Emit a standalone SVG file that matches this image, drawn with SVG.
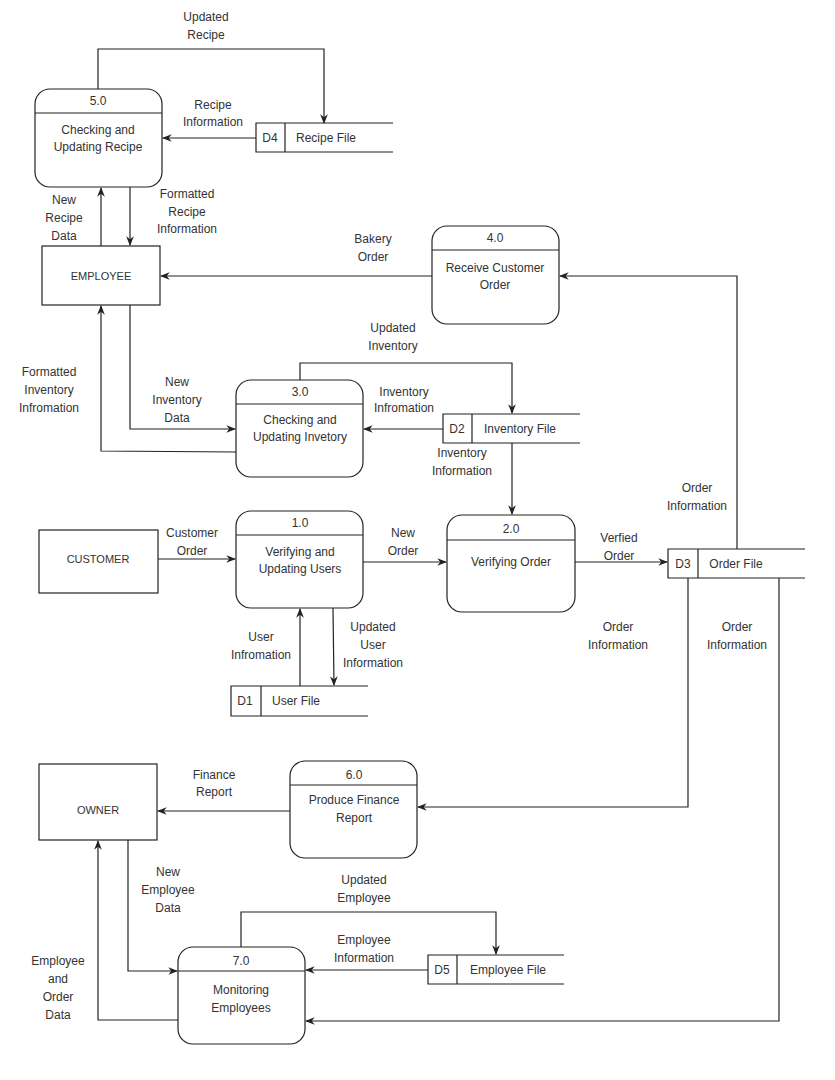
<svg xmlns="http://www.w3.org/2000/svg" width="835" height="1080" viewBox="0 0 835 1080">
<style>
text{font-family:"Liberation Sans",Arial,sans-serif;font-size:12px;fill:#333;text-anchor:middle}
.e{font-size:11px}
.b{fill:#fff;stroke:#222;stroke-width:1.2}
.l{fill:none;stroke:#222;stroke-width:1.2}
.c path{fill:none;stroke:#222;stroke-width:1.2;marker-end:url(#a)}
</style>
<defs><marker id="a" viewBox="0 0 10 10" refX="9" refY="5" markerWidth="8" markerHeight="8" orient="auto"><path d="M0,1 L10,5 L0,9 L3,5 Z" fill="#222"/></marker></defs>
<rect width="835" height="1080" fill="#fff"/>
<g id="p5"><rect class="b" x="35" y="89" width="127" height="98" rx="15"/><path class="l" d="M35,113H162"/><text x="98" y="105">5.0</text><text x="98" y="134">Checking and</text><text x="98" y="151">Updating Recipe</text></g>
<g id="d4"><path class="l" d="M393,123H256V152H393M285,123V152"/><text x="270" y="142">D4</text><text x="326" y="142">Recipe File</text></g>
<g id="employee"><rect class="b" x="42" y="246" width="118" height="59"/><text class="e" x="101" y="280">EMPLOYEE</text></g>
<g id="p4"><rect class="b" x="432" y="226" width="127" height="98" rx="15"/><path class="l" d="M432,250H559"/><text x="495" y="242">4.0</text><text x="495" y="272">Receive Customer</text><text x="495" y="289">Order</text></g>
<g id="p3"><rect class="b" x="236" y="380" width="127" height="97" rx="15"/><path class="l" d="M236,404H363"/><text x="300" y="396">3.0</text><text x="300" y="424">Checking and</text><text x="300" y="441">Updating Invetory</text></g>
<g id="d2"><path class="l" d="M580,414H443V443H580M472,414V443"/><text x="457" y="433">D2</text><text x="520" y="433">Inventory File</text></g>
<g id="customer"><rect class="b" x="39" y="530" width="119" height="63"/><text class="e" x="98" y="563">CUSTOMER</text></g>
<g id="p1"><rect class="b" x="236" y="511" width="127" height="97" rx="15"/><path class="l" d="M236,535H363"/><text x="300" y="527">1.0</text><text x="300" y="556">Verifying and</text><text x="300" y="573">Updating Users</text></g>
<g id="p2"><rect class="b" x="447" y="515" width="128" height="97" rx="15"/><path class="l" d="M447,540H575"/><text x="511" y="533">2.0</text><text x="511" y="566">Verifying Order</text></g>
<g id="d3"><path class="l" d="M805,549H668V578H805M698,549V578"/><text x="683" y="568">D3</text><text x="736" y="568">Order File</text></g>
<g id="d1"><path class="l" d="M368,686H231V716H368M261,686V716"/><text x="245" y="705">D1</text><text x="296" y="705">User File</text></g>
<g id="p6"><rect class="b" x="290" y="761" width="127" height="97" rx="15"/><path class="l" d="M290,785H417"/><text x="354" y="779">6.0</text><text x="354" y="804">Produce Finance</text><text x="354" y="822">Report</text></g>
<g id="owner"><rect class="b" x="39" y="764" width="118" height="76"/><text class="e" x="98" y="814">OWNER</text></g>
<g id="p7"><rect class="b" x="178" y="947" width="127" height="97" rx="15"/><path class="l" d="M178,971H305"/><text x="241" y="965">7.0</text><text x="241" y="994">Monitoring</text><text x="241" y="1012">Employees</text></g>
<g id="d5"><path class="l" d="M564,955H428V984H564M457,955V984"/><text x="442" y="974">D5</text><text x="508" y="974">Employee File</text></g>
<g class="c" id="connectors">
<path d="M98,89V49H324V123"/>
<path d="M256,138H163"/>
<path d="M101,246V188"/>
<path d="M130,187V245"/>
<path d="M432,276H161"/>
<path d="M737,549V276H560"/>
<path d="M300,380V363H512V413"/>
<path d="M443,429H364"/>
<path d="M130,305V429H235"/>
<path d="M236,452L101,451V306"/>
<path d="M512,443V514"/>
<path d="M158,559H235"/>
<path d="M363,562H446"/>
<path d="M575,562H667"/>
<path d="M688,578V807H418"/>
<path d="M779,578V1021H306"/>
<path d="M300,686V609"/>
<path d="M333,608L334,685"/>
<path d="M290,811H158"/>
<path d="M128,840V971H177"/>
<path d="M178,1020H98V841"/>
<path d="M241,947V912H496V954"/>
<path d="M428,970H306"/>
</g>
<g id="labels">
<text x="206" y="21">Updated</text><text x="206" y="39">Recipe</text>
<text x="213" y="109">Recipe</text><text x="213" y="126">Information</text>
<text x="64" y="204">New</text><text x="64" y="222">Recipe</text><text x="64" y="240">Data</text>
<text x="187" y="198">Formatted</text><text x="187" y="216">Recipe</text><text x="187" y="233">Information</text>
<text x="373" y="243">Bakery</text><text x="373" y="261">Order</text>
<text x="697" y="492">Order</text><text x="697" y="510">Information</text>
<text x="393" y="332">Updated</text><text x="393" y="350">Inventory</text>
<text x="404" y="396">Inventory</text><text x="404" y="412">Infromation</text>
<text x="177" y="386">New</text><text x="177" y="404">Inventory</text><text x="177" y="422">Data</text>
<text x="49" y="376">Formatted</text><text x="49" y="394">Inventory</text><text x="49" y="412">Infromation</text>
<text x="462" y="457">Inventory</text><text x="462" y="475">Information</text>
<text x="192" y="537">Customer</text><text x="192" y="555">Order</text>
<text x="403" y="537">New</text><text x="403" y="555">Order</text>
<text x="619" y="542">Verfied</text><text x="619" y="560">Order</text>
<text x="618" y="631">Order</text><text x="618" y="649">Information</text>
<text x="737" y="631">Order</text><text x="737" y="649">Information</text>
<text x="261" y="641">User</text><text x="261" y="659">Infromation</text>
<text x="373" y="631">Updated</text><text x="373" y="649">User</text><text x="373" y="667">Information</text>
<text x="214" y="779">Finance</text><text x="214" y="796">Report</text>
<text x="168" y="876">New</text><text x="168" y="894">Employee</text><text x="168" y="912">Data</text>
<text x="364" y="884">Updated</text><text x="364" y="902">Employee</text>
<text x="364" y="944">Employee</text><text x="364" y="962">Information</text>
<text x="58" y="965">Employee</text><text x="58" y="983">and</text><text x="58" y="1001">Order</text><text x="58" y="1019">Data</text>
</g>
</svg>
